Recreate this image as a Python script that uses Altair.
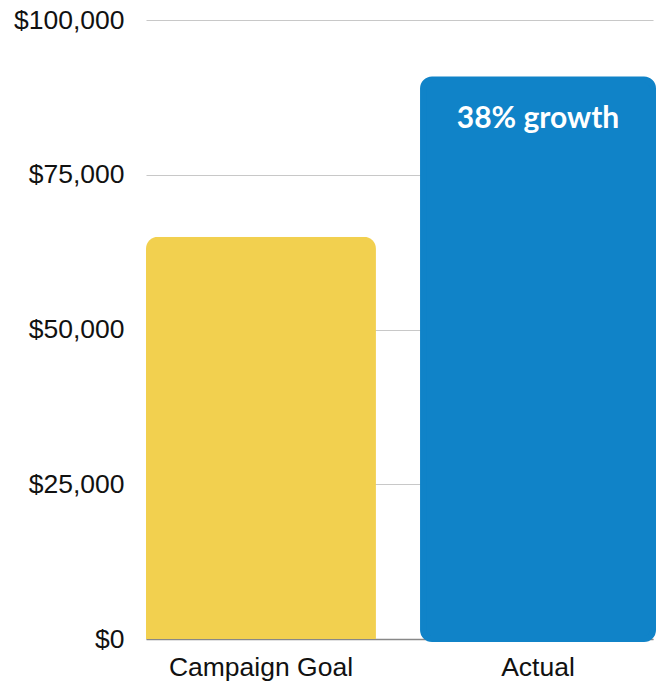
import altair as alt
import pandas as pd

categories = ["Campaign Goal", "Actual"]
amounts = [65000, 90400]
bar_colors = ["#F2D04F", "#1083C8"]
y_ticks = [0, 25000, 50000, 75000, 100000]
growth_label = "38% growth"

df = pd.DataFrame({"category": categories, "amount": amounts, "color": bar_colors})

x = alt.X(
    "category:N", sort=categories, title=None,
    scale=alt.Scale(paddingInner=0.17, paddingOuter=0),
    axis=alt.Axis(labelAngle=0, labelFont="Liberation Sans", labelFontSize=26.5,
                  labelColor="#111111", labelPadding=15, labelLimit=0, ticks=False,
                  domainColor="#888888", domainWidth=1.5, grid=False, zindex=0),
)
y = alt.Y(
    "amount:Q", title=None,
    scale=alt.Scale(domain=[0, 100000], nice=False),
    axis=alt.Axis(values=y_ticks, format="$,.0f", labelFont="Liberation Sans",
                  labelFontSize=26.5, labelColor="#111111", labelPadding=22,
                  labelLimit=0, ticks=False, domain=False, gridColor="#c8c8c8",
                  gridWidth=1.2, zindex=0),
)

base = alt.Chart(df).encode(x=x, y=y, color=alt.Color("color:N", scale=None))

goal = base.transform_filter(alt.datum.category == "Campaign Goal").mark_bar(
    cornerRadiusTopLeft=12, cornerRadiusTopRight=12
)
actual = base.transform_filter(alt.datum.category == "Actual").mark_bar(
    cornerRadius=9, strokeWidth=6, stroke=bar_colors[1], strokeJoin="round"
)
text = base.transform_filter(alt.datum.category == "Actual").mark_text(
    font="Lato", fontWeight="bold", fontSize=30, color="white",
    baseline="alphabetic", align="center", dy=49
).encode(text=alt.value(growth_label), color=alt.value("white"))

chart = alt.layer(goal, actual, text).properties(
    width=507, height=619,
    autosize=alt.AutoSizeParams(type="none"),
    padding={"left": 138, "top": 12, "right": 4, "bottom": 45},
).configure_view(stroke=None)

chart.save("out.html", embed_options={"renderer": "svg", "actions": False})
